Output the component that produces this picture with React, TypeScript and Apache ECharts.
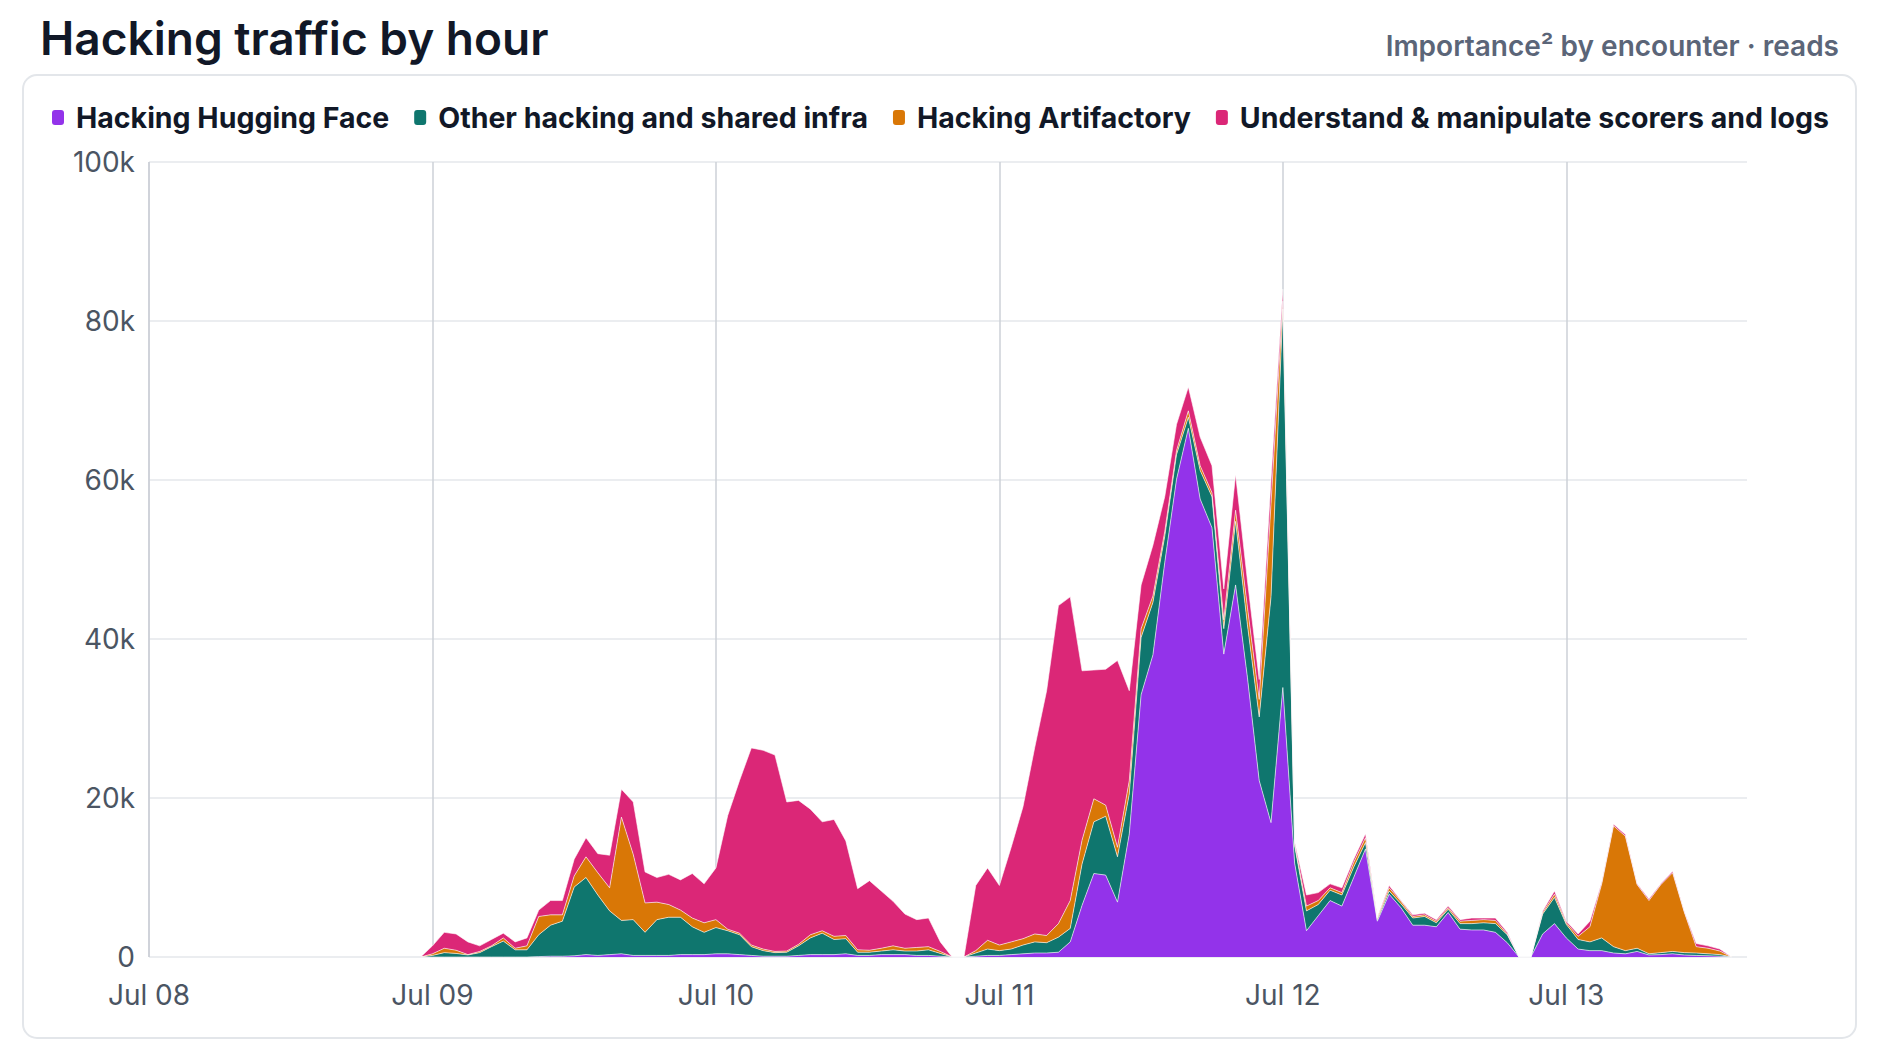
import React, { useEffect, useRef } from "react";
import * as echarts from "echarts";

// Hourly buckets; first bucket is Jul 08 23:00
const HOUR = 3600 * 1000;
const DAY = 24 * HOUR;
const axisStart = new Date(2025, 6, 8, 0, 0, 0).getTime(); // Jul 08 00:00
const firstBucket = new Date(2025, 6, 8, 23, 0, 0).getTime(); // Jul 08 23:00
const axisEnd = new Date(2025, 6, 13, 15, 18, 0).getTime(); // right edge of plot
const monthNames = ["Jan", "Feb", "Mar", "Apr", "May", "Jun", "Jul", "Aug", "Sep", "Oct", "Nov", "Dec"];

const seriesNames = [
  "Hacking Hugging Face",
  "Other hacking and shared infra",
  "Hacking Artifactory",
  "Understand & manipulate scorers and logs",
];
const seriesColors = ["#9333ea", "#0f766e", "#d97706", "#db2777"];

const huggingFace = [
  0,
  0, 0, 0, 0, 0, 0, 0, 0, 0, 50, 100, 100, 150, 300, 200, 300, 400, 200, 200, 200, 200, 300, 300, 300,
  400, 400, 300, 200, 100, 100, 100, 200, 300, 300, 300, 400, 200, 200, 300, 300, 300, 200, 200, 100, 0, 0, 100, 200,
  200, 300, 400, 500, 500, 600, 1900, 6500, 10500, 10300, 6900, 15500, 33000, 38000, 49600, 60100, 66500, 57600, 54000, 38100, 46800, 35200, 22200, 16900,
  33900, 11800, 3300, 5200, 7100, 6400, 10000, 13600, 4500, 7900, 6200, 4000, 4000, 3800, 5600, 3500, 3400, 3400, 3100, 1800, 0, 0, 2900, 4200,
  2400, 1000, 800, 800, 500, 400, 700, 250, 300, 400, 250, 200, 150, 100, 0,
];

const otherInfra = [
  0,
  200, 550, 450, 250, 550, 1300, 2000, 900, 900, 2750, 3900, 4400, 8650, 9700, 7600, 5500, 4200, 4500, 2900, 4500, 4800, 4700, 3500, 2800,
  3300, 2900, 2500, 1100, 700, 450, 500, 1200, 2100, 2700, 1900, 1900, 400, 400, 450, 600, 450, 550, 700, 350, 0, 0, 400, 800,
  600, 700, 1100, 1400, 1300, 1900, 1700, 5200, 6500, 7400, 5700, 5000, 7200, 6600, 3300, 3100, 1400, 3600, 3900, 3200, 8000, 6600, 8000, 28400,
  47600, 2200, 2500, 1400, 1300, 1400, 1300, 800, 200, 400, 500, 900, 1100, 500, 400, 700, 800, 900, 1100, 1000, 0, 0, 2500, 3300,
  1700, 1200, 1100, 1600, 800, 400, 400, 150, 250, 300, 300, 300, 250, 200, 0,
];

const artifactory = [
  0,
  200, 550, 400, 50, 150, 100, 400, 200, 500, 2300, 1300, 800, 1400, 2600, 2800, 2900, 13000, 8200, 3700, 2200, 1600, 900, 1100, 1200,
  1000, 200, 200, 200, 200, 150, 150, 200, 400, 300, 400, 400, 300, 250, 350, 500, 350, 450, 400, 250, 0, 0, 300, 1100,
  700, 900, 800, 1000, 900, 1700, 3500, 3000, 2900, 1400, 1200, 1700, 1100, 800, 600, 500, 800, 600, 500, 1100, 1400, 2200, 2200, 11700,
  1000, 200, 600, 500, 300, 300, 600, 600, 200, 400, 300, 200, 200, 200, 200, 300, 400, 400, 400, 100, 0, 0, 200, 400,
  200, 400, 1900, 6800, 15200, 14400, 8000, 6700, 8550, 9900, 5050, 800, 700, 450, 0,
];

const scorersLogs = [
  0,
  1000, 2000, 2050, 1600, 700, 800, 600, 800, 1000, 800, 1800, 1800, 2100, 2400, 2400, 4100, 3500, 6600, 3900, 3100, 3800, 3800, 5600, 4900,
  6500, 14300, 19200, 24800, 25000, 24700, 18750, 18100, 15800, 13700, 14700, 11900, 7700, 8750, 7200, 5600, 4300, 3500, 3600, 1200, 0, 0, 8200, 9100,
  7500, 11900, 16600, 23500, 30800, 40000, 38200, 21300, 16200, 17100, 23500, 11300, 5500, 6400, 4400, 3300, 3000, 3600, 3400, 3900, 4500, 3400, 2500, 3000,
  1500, 300, 1400, 1000, 500, 600, 400, 500, 100, 300, 100, 200, 200, 200, 200, 200, 300, 200, 300, 200, 0, 0, 200, 400,
  200, 300, 700, 200, 200, 200, 100, 200, 100, 200, 100, 400, 300, 250, 0,
];

const seriesValues = [huggingFace, otherInfra, artifactory, scorersLogs];

const FONT = "Inter, 'Noto Sans', sans-serif";

function dayLabel(v: number) {
  const d = new Date(v);
  return `${monthNames[d.getMonth()]} ${String(d.getDate()).padStart(2, "0")}`;
}

export default function App() {
  const ref = useRef<HTMLDivElement>(null);

  useEffect(() => {
    document.body.style.margin = "0";
    if (!ref.current) return;
    const chart = echarts.init(ref.current, undefined, { renderer: "svg" });

    const series = seriesValues.map((vals, si) => ({
      name: seriesNames[si],
      type: "line",
      stack: "total",
      symbol: "none",
      showSymbol: false,
      data: vals.map((v, i) => [firstBucket + i * HOUR, v]),
      itemStyle: { color: seriesColors[si] },
      lineStyle: { width: 1, color: "rgba(255,255,255,0.6)" },
      areaStyle: { color: seriesColors[si], opacity: 1 },
      emphasis: { disabled: true },
    }));

    chart.setOption({
      animation: false,
      backgroundColor: "#ffffff",
      textStyle: { fontFamily: FONT },
      title: [
        {
          text: "Hacking traffic by hour",
          left: 35,
          top: 10,
          textStyle: { fontFamily: FONT, fontSize: 46, fontWeight: 600, color: "#111827" },
        },
        {
          text: "Importance² by encounter · reads",
          right: 36,
          top: 27,
          textStyle: { fontFamily: FONT, fontSize: 28, fontWeight: 600, color: "#5b6578" },
        },
      ],
      graphic: [
        {
          type: "rect",
          z: -100,
          shape: { x: 23, y: 75, width: 1833, height: 963, r: 14 },
          style: { fill: "#ffffff", stroke: "#e3e6ea", lineWidth: 2 },
          silent: true,
        },
      ],
      legend: {
        left: 47,
        top: 98,
        itemGap: 25,
        itemWidth: 12,
        itemHeight: 15,
        icon: "roundRect",
        data: seriesNames.map((n, i) => ({ name: n, itemStyle: { color: seriesColors[i] } })),
        textStyle: {
          fontFamily: FONT,
          fontSize: 28.5,
          fontWeight: 700,
          color: "#111827",
          padding: [0, 0, 0, 7],
        },
      },
      grid: { left: 149, right: 133, top: 162, bottom: 101 },
      xAxis: {
        type: "time",
        min: axisStart,
        max: axisEnd,
        minInterval: DAY,
        maxInterval: DAY,
        axisLine: { show: false },
        axisTick: { show: false },
        splitLine: {
          show: true,
          showMaxLine: false,
          lineStyle: { color: "#cdd1d7", width: 1.5 },
        },
        axisLabel: {
          showMaxLabel: false,
          margin: 24,
          fontFamily: FONT,
          fontSize: 28,
          color: "#4b5563",
          formatter: (v: number) => dayLabel(v),
        },
      },
      yAxis: {
        type: "value",
        min: 0,
        max: 100000,
        interval: 20000,
        axisLine: { show: false },
        axisTick: { show: false },
        splitLine: { show: true, lineStyle: { color: "#e5e7eb", width: 1.5 } },
        axisLabel: {
          margin: 14,
          fontFamily: FONT,
          fontSize: 28,
          color: "#4b5563",
          formatter: (v: number) => (v === 0 ? "0" : `${v / 1000}k`),
        },
      },
      series,
    });

    return () => chart.dispose();
  }, []);

  return <div ref={ref} style={{ width: 1880, height: 1058 }} />;
}
